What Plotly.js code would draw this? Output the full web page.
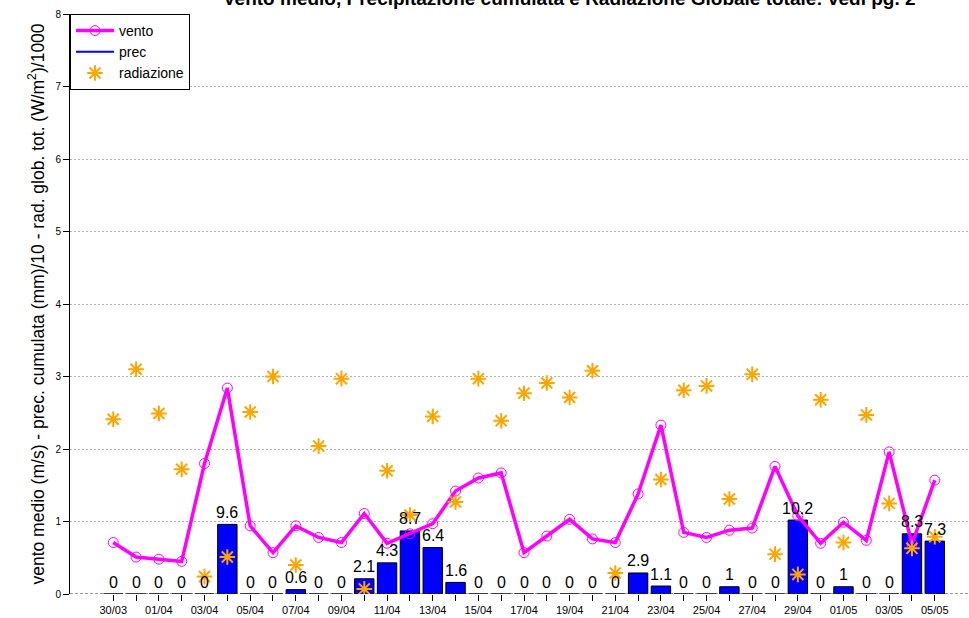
<!DOCTYPE html>
<html><head><meta charset="utf-8">
<script src="https://cdn.plot.ly/plotly-3.0.1.min.js"></script>
<style>html,body{margin:0;padding:0;background:#fff}#chart{width:969px;height:618px}</style>
</head><body><div id="chart"></div>
<script>
const dates = ["30/03","31/03","01/04","02/04","03/04","04/04","05/04","06/04","07/04","08/04","09/04","10/04","11/04","12/04","13/04","14/04","15/04","16/04","17/04","18/04","19/04","20/04","21/04","22/04","23/04","24/04","25/04","26/04","27/04","28/04","29/04","30/04","01/05","02/05","03/05","04/05","05/05"];
const vento = [0.71,0.51,0.48,0.45,1.80,2.84,0.94,0.57,0.94,0.78,0.71,1.11,0.70,0.83,0.97,1.42,1.60,1.67,0.57,0.80,1.03,0.76,0.71,1.38,2.33,0.85,0.78,0.88,0.91,1.76,1.08,0.70,0.99,0.74,1.96,0.69,1.57];
const prec = [0,0,0,0,0,9.6,0,0,0.6,0,0,2.1,4.3,8.7,6.4,1.6,0,0,0,0,0,0,0,2.9,1.1,0,0,1,0,0,10.2,0,1,0,0,8.3,7.3];
const radiazione = [2.41,3.10,2.49,1.72,0.24,0.51,2.51,3.00,0.40,2.04,2.97,0.07,1.70,1.09,2.45,1.27,2.97,2.39,2.77,2.91,2.71,3.08,0.29,null,1.58,2.81,2.87,1.31,3.03,0.55,0.27,2.68,0.71,2.47,1.25,0.63,0.79];
const titleText = 'Vento medio, Precipitazione cumulata e Radiazione Globale totale: vedi pg. 2';
const yTitleText = 'vento medio (m/s) - prec. cumulata (mm)/10 - rad. glob. tot. (W/m<sup>2</sup>)/1000';

const idx = dates.map((d,i)=>i);
const labelIdx = idx.filter(i=>i%2===0);
const labelText = labelIdx.map(i=>dates[i]);
const precScaled = prec.map(v=>v/10);
const FONT = "Liberation Sans, Arial, sans-serif";

const traces = [
  {type:'bar', x:idx, y:precScaled, width:0.85, marker:{color:'#0000FF', line:{color:'#000', width:1}}, showlegend:false, hoverinfo:'skip'},
  {type:'scatter', mode:'lines+markers', name:'vento', x:idx, y:vento,
   line:{color:'#FF00FF', width:3.5}, marker:{symbol:'circle-open', size:10, color:'#FF00FF', line:{width:1}}},
  {type:'scatter', mode:'lines', name:'prec', x:[null], y:[null], line:{color:'#0000FF', width:2}},
  {type:'scatter', mode:'markers', name:'radiazione', x:idx, y:radiazione,
   marker:{symbol:'asterisk-open', size:13, color:'#FFA500', line:{color:'#FFA500', width:2}}}
];

const annotations = idx.map(i=>({x:i, y:precScaled[i], xref:'x', yref:'y', text:String(prec[i]),
  showarrow:false, xanchor:'center', yanchor:'middle', yshift:12,
  font:{family:FONT, size:16, color:'#000'}}));
annotations.push({xref:'paper', yref:'paper', x:(569-70)/899, y:1, xanchor:'center', yanchor:'bottom', yshift:3,
  text:'<b>'+titleText+'</b>', showarrow:false, font:{family:FONT, size:19, color:'#000'}});

const layout = {
  width:969, height:618,
  margin:{l:70, r:0, t:14, b:24, pad:0},
  paper_bgcolor:'#fff', plot_bgcolor:'#fff',
  font:{family:FONT, color:'#000'},
  xaxis:{range:[-1.895,37.5], tickmode:'array', tickvals:labelIdx, ticktext:labelText, ticks:'outside', ticklen:6, tickcolor:'#000',
         minor:{tickmode:'array', tickvals:idx, ticks:'outside', ticklen:6, tickcolor:'#000', showgrid:false},
         showgrid:false, zeroline:false, showline:false, tickfont:{family:FONT, size:11, color:'#000'}},
  yaxis:{range:[0,8], tickvals:[0,1,2,3,4,5,6,7,8], ticks:'outside', ticklen:6, tickcolor:'#000',
         showline:true, linecolor:'#000', linewidth:1, zeroline:false,
         showgrid:true, gridcolor:'#b0b0b0', griddash:'2px,2px', gridwidth:1,
         tickfont:{family:FONT, size:10, color:'#000'},
         title:{text:yTitleText, font:{family:FONT, size:17.5, color:'#000'}, standoff:6}},
  legend:{x:0, y:1, xanchor:'left', yanchor:'top', bordercolor:'#000', borderwidth:1, bgcolor:'#fff',
          font:{family:FONT, size:14, color:'#000'}, tracegroupgap:0, itemwidth:38},
  shapes:[{type:'line', xref:'paper', x0:0, x1:1, yref:'y', y0:0, y1:0, line:{color:'#333', width:1, dash:'3px,2px'}, layer:'above'}],
  annotations:annotations,
  showlegend:true
};
Plotly.newPlot('chart', traces, layout, {displayModeBar:false, staticPlot:true});
</script></body></html>
